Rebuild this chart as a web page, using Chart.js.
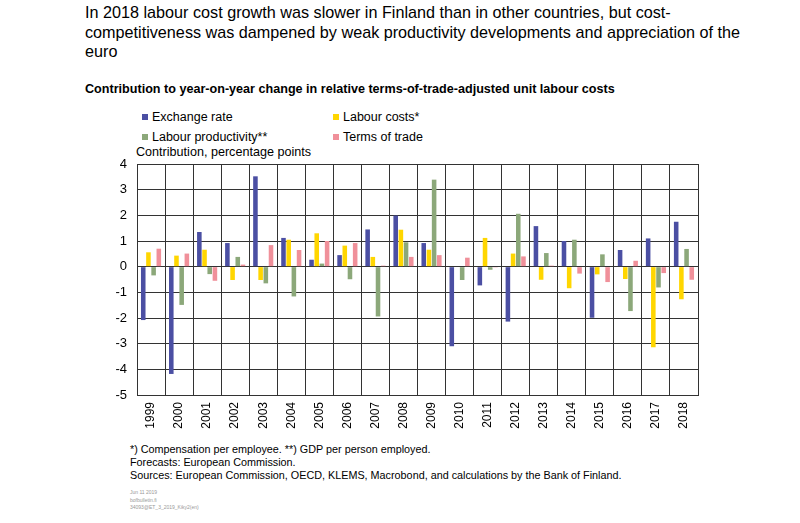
<!DOCTYPE html>
<html>
<head>
<meta charset="utf-8">
<script src="https://cdn.jsdelivr.net/npm/chart.js@4.4.1/dist/chart.umd.min.js"></script>
<style>
  body { margin: 0; width: 800px; height: 523px; background: #fff; font-family: "Liberation Sans", Arial, sans-serif; color: #000; position: relative; overflow: hidden; }
  .abs { position: absolute; white-space: nowrap; }
  #title { left: 85px; top: 3px; font-size: 16.2px; line-height: 19.5px; }
  #subtitle { left: 85px; top: 82px; font-size: 12.6px; font-weight: bold; line-height: 14px; }
  .leg { font-size: 12.5px; line-height: 14px; }
  .leg i { display: inline-block; width: 6px; height: 6px; margin-right: 4px; vertical-align: 1px; }
  #unit { left: 136px; top: 145px; font-size: 12.6px; line-height: 14px; }
  #wrap { position: absolute; left: 0; top: 140px; width: 720px; height: 300px; }
  .note { left: 130px; font-size: 10.8px; line-height: 13px; }
  .tiny { left: 130px; font-size: 5px; line-height: 7.5px; color: #999; }
</style>
</head>
<body>
<div id="title" class="abs">In 2018 labour cost growth was slower in Finland than in other countries, but cost-<br>competitiveness was dampened by weak productivity developments and appreciation of the<br>euro</div>
<div id="subtitle" class="abs">Contribution to year-on-year change in relative terms-of-trade-adjusted unit labour costs</div>
<div id="legend"></div>
<div id="unit" class="abs">Contribution, percentage points</div>
<div id="wrap"><canvas id="chart"></canvas></div>
<div class="abs note" style="top:443px">*) Compensation per employee. **) GDP per person employed.</div>
<div class="abs note" style="top:456px">Forecasts: European Commission.</div>
<div class="abs note" style="top:469px">Sources: European Commission, OECD, KLEMS, Macrobond, and calculations by the Bank of Finland.</div>
<div class="abs tiny" style="top:489px">Jun 11 2019</div>
<div class="abs tiny" style="top:496.5px">bofbulletin.fi</div>
<div class="abs tiny" style="top:504px">34093@ET_3_2019_Kiky2(en)</div>
<script>
const years = ['1999','2000','2001','2002','2003','2004','2005','2006','2007','2008',
               '2009','2010','2011','2012','2013','2014','2015','2016','2017','2018'];
const exchangeRate = [-2.08, -4.18, 1.35, 0.92, 3.52, 1.12, 0.27, 0.45, 1.45, 1.99,
                      0.92, -3.10, -0.73, -2.14, 1.58, 1.00, -1.99, 0.65, 1.10, 1.75];
const labourCosts = [0.56, 0.43, 0.66, -0.52, -0.52, 1.05, 1.30, 0.82, 0.38, 1.44,
                     0.66, 0.02, 1.12, 0.51, -0.51, -0.84, -0.30, -0.48, -3.14, -1.27];
const labourProductivity = [-0.34, -1.49, -0.29, 0.38, -0.65, -1.16, 0.12, -0.49, -1.94, 0.95,
                            3.39, -0.52, -0.12, 2.06, 0.53, 1.05, 0.48, -1.73, -0.81, 0.69];
const termsOfTrade = [0.70, 0.51, -0.55, 0.08, 0.84, 0.65, 1.00, 0.92, 0.04, 0.38,
                      0.45, 0.35, -0.03, 0.40, 0.04, -0.27, -0.60, 0.23, -0.25, -0.51];
const yTicks = [4, 3, 2, 1, 0, -1, -2, -3, -4, -5];

const series = [
  { label: 'Exchange rate', data: exchangeRate, color: '#4b4fa3' },
  { label: 'Labour costs*', data: labourCosts, color: '#ffd600' },
  { label: 'Labour productivity**', data: labourProductivity, color: '#8ca87a' },
  { label: 'Terms of trade', data: termsOfTrade, color: '#f0909a' }
];

// legend laid out 2x2 like the original
const legPos = [[142, 110], [333, 110], [142, 129.5], [333, 129.5]];
const legend = document.getElementById('legend');
series.forEach((s, i) => {
  const d = document.createElement('div');
  d.className = 'abs leg';
  d.style.left = legPos[i][0] + 'px';
  d.style.top = legPos[i][1] + 'px';
  d.innerHTML = '<i style="background:' + s.color + '"></i>' + s.label;
  legend.appendChild(d);
});

new Chart(document.getElementById('chart'), {
  type: 'bar',
  data: {
    labels: years,
    datasets: series.map(s => ({
      label: s.label,
      data: s.data,
      backgroundColor: s.color,
      borderWidth: 0,
      barPercentage: 0.88,
      categoryPercentage: 0.74
    }))
  },
  options: {
    responsive: true,
    maintainAspectRatio: false,
    animation: false,
    layout: { padding: { top: 24, right: 22, left: 0, bottom: 0 } },
    plugins: { legend: { display: false }, tooltip: { enabled: false } },
    scales: {
      x: {
        afterFit: s => { s.height = 45; },
        grid: { color: '#333', lineWidth: 1, drawTicks: false, offset: true },
        border: { color: '#333' },
        ticks: { color: '#000', font: { family: 'Liberation Sans', size: 12 }, minRotation: 90, maxRotation: 90, padding: 7 }
      },
      y: {
        min: -5,
        max: 4,
        afterFit: s => { s.width = 137; },
        afterBuildTicks: s => { s.ticks = yTicks.map(v => ({ value: v })); },
        grid: { color: '#333', lineWidth: 1, drawTicks: false },
        border: { color: '#333' },
        ticks: { color: '#000', font: { family: 'Liberation Sans', size: 13 }, padding: 10 }
      }
    }
  }
});
</script>
</body>
</html>
